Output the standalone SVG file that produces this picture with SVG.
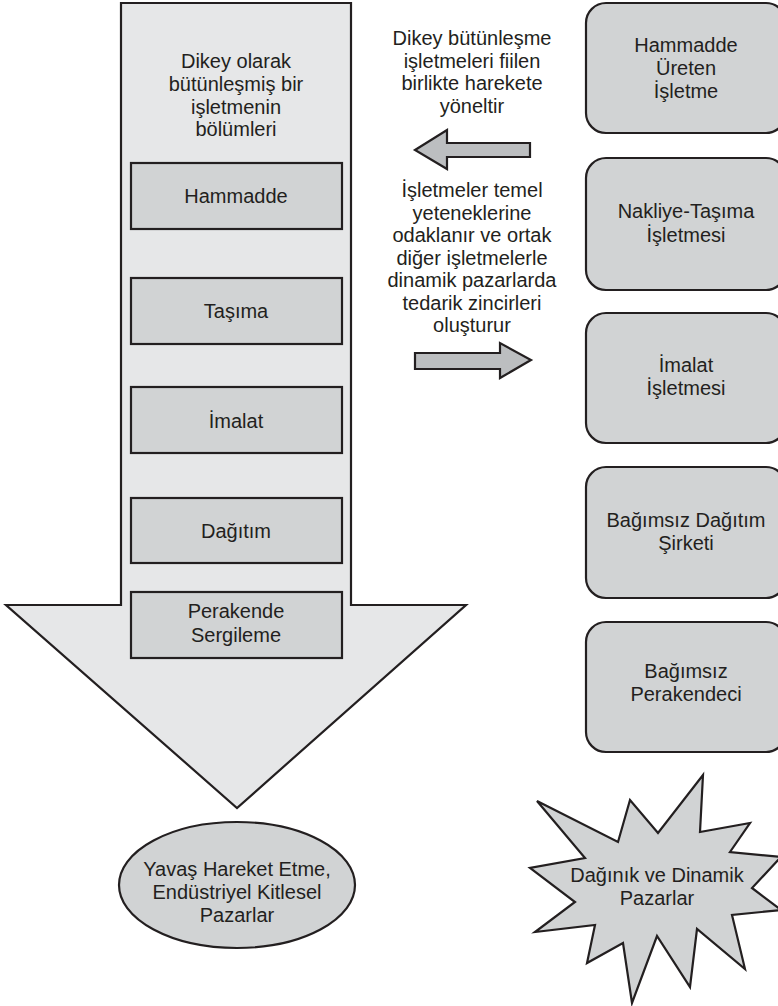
<svg xmlns="http://www.w3.org/2000/svg" width="778" height="1006" viewBox="0 0 778 1006">
<style>
.t{font-family:"Liberation Sans",Arial,sans-serif;font-size:20px;fill:#231f20;text-anchor:middle}
.ln{stroke:#231f20;stroke-width:2.2;stroke-linejoin:miter}
.big{fill:#e6e7e8}
.box{fill:#d1d3d4}
.arr{fill:#bcbec0}
</style>
<rect width="778" height="1006" fill="#ffffff"/>
<g id="vertical-arrow">
<polygon class="big ln" points="121,3 351,3 351,605 466,605 237,808 6,605 121,605"/>
<text class="t" x="236" y="68">Dikey olarak</text>
<text class="t" x="236" y="91">bütünleşmiş bir</text>
<text class="t" x="236" y="113.5">işletmenin</text>
<text class="t" x="236" y="136">bölümleri</text>
</g>
<g id="hammadde">
<rect class="box ln" x="131" y="163" width="211" height="66"/>
<text class="t" x="236" y="203">Hammadde</text>
</g>
<g id="tasima">
<rect class="box ln" x="131" y="278" width="211" height="66"/>
<text class="t" x="236" y="318">Taşıma</text>
</g>
<g id="imalat">
<rect class="box ln" x="131" y="387" width="211" height="66"/>
<text class="t" x="236" y="428">İmalat</text>
</g>
<g id="dagitim">
<rect class="box ln" x="131" y="498" width="211" height="65"/>
<text class="t" x="236" y="538">Dağıtım</text>
</g>
<g id="perakende">
<rect class="box ln" x="131" y="592" width="211" height="66"/>
<text class="t" x="236" y="618">Perakende</text>
<text class="t" x="236" y="642">Sergileme</text>
</g>
<g id="mass-markets">
<ellipse class="box ln" cx="237" cy="885" rx="118" ry="63"/>
<text class="t" x="237" y="876">Yavaş Hareket Etme,</text>
<text class="t" x="237" y="899">Endüstriyel Kitlesel</text>
<text class="t" x="237" y="922">Pazarlar</text>
</g>
<g id="note-vertical">
<text class="t" x="472" y="45">Dikey bütünleşme</text>
<text class="t" x="472" y="67.5">işletmeleri fiilen</text>
<text class="t" x="472" y="90">birlikte harekete</text>
<text class="t" x="472" y="112.5">yöneltir</text>
</g>
<g id="note-network">
<text class="t" x="472" y="197">İşletmeler temel</text>
<text class="t" x="472" y="219.5">yeteneklerine</text>
<text class="t" x="472" y="242">odaklanır ve ortak</text>
<text class="t" x="472" y="264.5">diğer işletmelerle</text>
<text class="t" x="472" y="287">dinamik pazarlarda</text>
<text class="t" x="472" y="309.5">tedarik zincirleri</text>
<text class="t" x="472" y="332">oluşturur</text>
</g>
<g id="connectors">
<polygon class="arr ln" points="415,150 447,130 447,143 530,143 530,157 447,157 447,169"/>
<polygon class="arr ln" points="415,353 500,353 500,343 531,360 500,378 500,369 415,369"/>
</g>
<g id="hammadde-ureten">
<rect class="box ln" x="586" y="3" width="200" height="130" rx="20"/>
<text class="t" x="686" y="52">Hammadde</text>
<text class="t" x="686" y="75">Üreten</text>
<text class="t" x="686" y="98">İşletme</text>
</g>
<g id="nakliye">
<rect class="box ln" x="586" y="158" width="200" height="132" rx="20"/>
<text class="t" x="686" y="218">Nakliye-Taşıma</text>
<text class="t" x="686" y="242">İşletmesi</text>
</g>
<g id="imalat-isletmesi">
<rect class="box ln" x="586" y="313" width="200" height="130" rx="20"/>
<text class="t" x="686" y="372">İmalat</text>
<text class="t" x="686" y="395">İşletmesi</text>
</g>
<g id="dagitim-sirketi">
<rect class="box ln" x="586" y="467" width="200" height="131" rx="20"/>
<text class="t" x="686" y="527">Bağımsız Dağıtım</text>
<text class="t" x="686" y="550">Şirketi</text>
</g>
<g id="perakendeci">
<rect class="box ln" x="586" y="622" width="200" height="130" rx="20"/>
<text class="t" x="686" y="678">Bağımsız</text>
<text class="t" x="686" y="701">Perakendeci</text>
</g>
<g id="dynamic-markets">
<polygon class="box ln" points="537,801 618,842 630,800 658,833 703,775 700,832 750,823 730,852 781,857 752,888 781,910 732,915 745,969 697,929 690,987 657,936 632,1003 623,943 587,963 595,925 535,932 575,902 530,868 585,858"/>
<text class="t" x="657" y="882">Dağınık ve Dinamik</text>
<text class="t" x="657" y="904.5">Pazarlar</text>
</g>
</svg>
